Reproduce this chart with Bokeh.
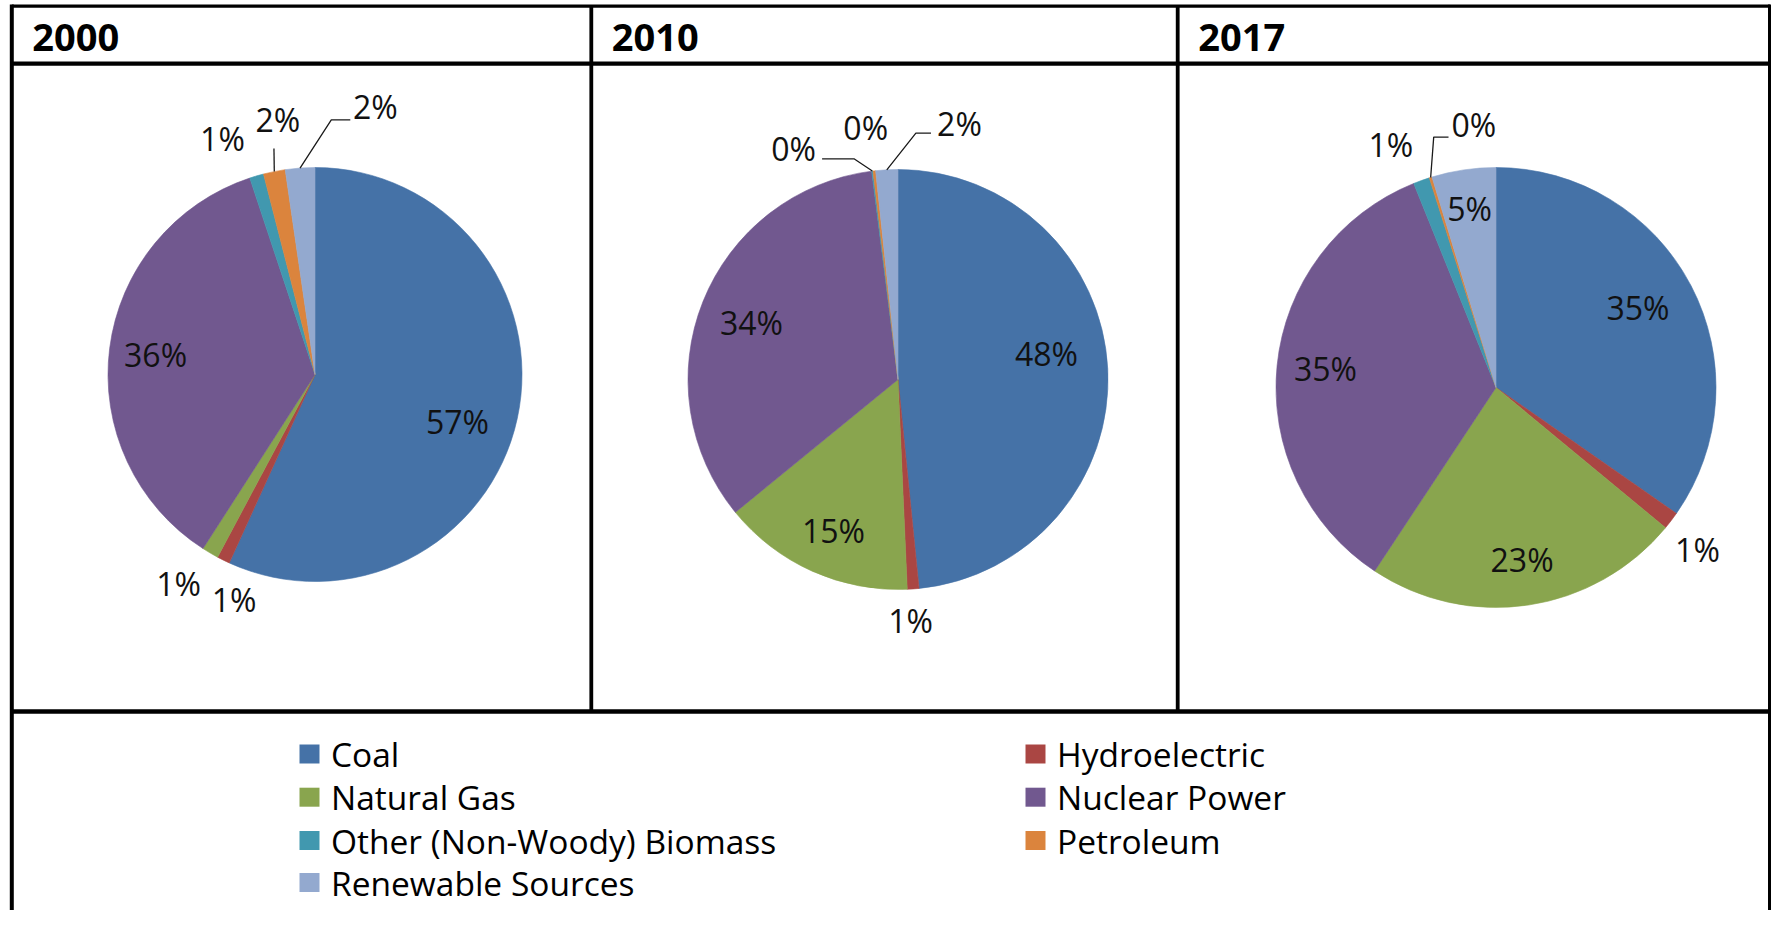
import math
from bokeh.plotting import figure
from bokeh.models import Range1d
from bokeh.core.properties import value
from bokeh.embed import file_html
from bokeh.resources import INLINE

# ---------------- data ----------------
categories = ["Coal", "Hydroelectric", "Natural Gas", "Nuclear Power",
              "Other (Non-Woody) Biomass", "Petroleum", "Renewable Sources"]
colors = ["#4572A7", "#AA4643", "#89A54E", "#71588F", "#4198AF", "#DB843D", "#93A9CF"]
years = ["2000", "2010", "2017"]
share_2000 = [56.8, 1.0, 1.3, 35.8, 1.1, 1.7, 2.3]
share_2010 = [48.4, 0.9, 14.8, 33.9, 0.1, 0.2, 1.7]
share_2017 = [34.7, 1.3, 23.3, 34.6, 1.2, 0.2, 4.7]
shares = [share_2000, share_2010, share_2017]

# ---------------- layout (pixels) ----------------
W, H = 1771, 910
def X(px):
    return px
def Y(py):
    return H - py

pie_centers = [(314.5, 374.0), (897.5, 379.0), (1495.5, 387.0)]
pie_radii = [207, 210, 220]
# label placement: (angle clockwise from 12 o'clock, radius fraction)
label_place = [
    [(108.3, 0.725), (199.8, 1.155), (213.1, 1.206), (277.1, 0.776), (338.6, 1.225), (351.7, 1.243), (12.7, 1.325)],
    [(80.1, 0.718), (177.0, 1.151), (203.1, 0.784), (291.3, 0.749), (335.7, 1.207), (352.7, 1.21), (13.5, 1.254)],
    [(60.6, 0.741), (128.8, 1.175), (171.4, 0.793), (276.5, 0.78), (336.6, 1.203), (355.2, 1.2), (351.6, 0.821)],
]
# leader lines: category index -> (elbow dx, elbow dy, end dx, end dy) relative to label centre
leaders = [
    {5: (-3.9, 28.7, -3.9, 28.7), 6: (-44, 12.9, -25, 12.9)},
    {4: (60.3, 10.3, 28.4, 10.3), 6: (-43.6, 9.6, -28.5, 9.6)},
    {5: (-40.2, 12.7, -25.4, 12.7)},
]
col_left = [11.3, 590.8, 1177.2]

p = figure(width=W, height=H, x_range=Range1d(0, W), y_range=Range1d(0, H),
           x_axis_type=None, y_axis_type=None, toolbar_location=None,
           output_backend="svg", min_border=0)
p.grid.visible = False
p.outline_line_color = None
p.background_fill_color = "white"
p.border_fill_color = "white"

FONT = value("Open Sans")

# ---------------- pies ----------------
for k, vals in enumerate(shares):
    cx, cy = pie_centers[k]
    r = pie_radii[k]
    total = sum(vals)
    cum = 0.0
    starts, ends, mids = [], [], []
    for v in vals:
        c0 = cum / total
        cum += v
        c1 = cum / total
        starts.append(math.radians(90 - 360 * c1))
        ends.append(math.radians(90 - 360 * c0))
        mids.append(360 * (c0 + c1) / 2)
    p.wedge(x=[X(cx)] * len(vals), y=[Y(cy)] * len(vals), radius=r,
            start_angle=starts, end_angle=ends,
            fill_color=colors, line_color=colors, line_width=0.6)

    lx, ly, lt = [], [], []
    for i, v in enumerate(vals):
        ang, rf = label_place[k][i]
        a = math.radians(ang)
        px = cx + rf * r * math.sin(a)
        py = cy - rf * r * math.cos(a)
        lx.append(X(px)); ly.append(Y(py)); lt.append(f"{round(v)}%")
        if i in leaders[k]:
            ex, ey, hx, hy = leaders[k][i]
            m = math.radians(mids[i])
            sx = cx + r * math.sin(m)
            sy = cy - r * math.cos(m)
            p.line(x=[X(sx), X(px + ex), X(px + hx)], y=[Y(sy), Y(py + ey), Y(py + hy)],
                   line_color="#1a1a1a", line_width=1.3)
    p.text(x=lx, y=ly, text=lt, text_font=FONT, text_font_size="32px",
           text_align="center", text_baseline="middle", text_color="#111111")

# ---------------- table frame ----------------
top_y, head_y, pie_bot_y = 5.6, 63.2, 711.0
right_x = 1769.5
p.segment(x0=[X(col_left[0])], y0=[Y(top_y)], x1=[X(right_x)], y1=[Y(top_y)],
          line_color="black", line_width=3.4)
p.segment(x0=[X(col_left[0])] * 2, y0=[Y(head_y), Y(pie_bot_y)],
          x1=[X(right_x)] * 2, y1=[Y(head_y), Y(pie_bot_y)],
          line_color="black", line_width=4.3)
p.segment(x0=[X(col_left[0]), X(right_x)], y0=[Y(top_y - 1.7)] * 2,
          x1=[X(col_left[0]), X(right_x)], y1=[Y(H)] * 2,
          line_color="black", line_width=4)
p.segment(x0=[X(col_left[1]), X(col_left[2])], y0=[Y(top_y)] * 2,
          x1=[X(col_left[1]), X(col_left[2])], y1=[Y(pie_bot_y)] * 2,
          line_color="black", line_width=3.8)

# header years
p.text(x=[X(c + 20.5) for c in col_left], y=[Y(36.5)] * 3, text=years,
       text_font=FONT, text_font_size="38px", text_font_style="bold",
       text_align="left", text_baseline="middle", text_color="black")

# ---------------- legend ----------------
leg_cols = [309.0, 1035.0]
leg_rows = [753.5, 796.7, 840.0, 882.0]
order = [(0, 0), (1, 0), (0, 1), (1, 1), (0, 2), (1, 2), (0, 3)]
sx_, sy_, tx_, ty_ = [], [], [], []
for i, (c, rrow) in enumerate(order):
    sx_.append(X(leg_cols[c])); sy_.append(Y(leg_rows[rrow]))
    tx_.append(X(leg_cols[c] + 21.5)); ty_.append(Y(leg_rows[rrow]))
p.rect(x=sx_, y=sy_, width=20, height=19, fill_color=colors, line_color=None)
p.text(x=tx_, y=ty_, text=categories, text_font=FONT, text_font_size="33.5px",
       text_align="left", text_baseline="middle", text_color="black")

open("out.html", "w").write(file_html(p, INLINE))
